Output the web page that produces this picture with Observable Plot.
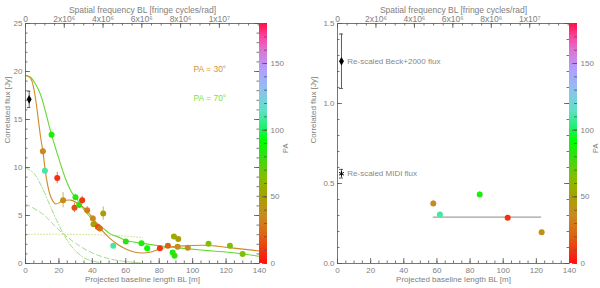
<!DOCTYPE html>
<html><head><meta charset="utf-8">
<script src="https://cdn.jsdelivr.net/npm/d3@7"></script>
<script src="https://cdn.jsdelivr.net/npm/@observablehq/plot@0.6"></script>
<style>
body{margin:0;background:#fff;}
#wrap{position:relative;width:600px;height:288px;overflow:hidden;background:#fff;}
#wrap svg{position:absolute;top:0;}
</style></head><body><div id="wrap"></div>
<script>
// ---------- data ----------
const lambda = 11.6e-6; // m, for spatial frequency axis
const topFreqTicks = [0, 2e6, 4e6, 6e6, 8e6, 1e7];
const topFreqLabels = ["0", "2x10\u2076", "4x10\u2076", "6x10\u2076", "8x10\u2076", "1x10\u2077"];
const blTicks = [0, 20, 40, 60, 80, 100, 120, 140];
const leftFluxTicks = [0, 5, 10, 15, 20, 25];
const rightFluxTicks = [0, 0.5, 1.0, 1.5];
const rightFluxLabels = ["0.0", "0.5", "1.0", "1.5"];
const paTicks = [0, 50, 100, 150];

// PA colour table
const paStops  = [0, 20, 35, 50, 65, 80, 92, 102, 115, 130, 145, 160, 170, 180];
const paColors = ["#ff1010", "#e06010", "#c88a20", "#a8a000", "#80c000", "#30e010", "#00ff00", "#20f070", "#60e0c8", "#90c0f0", "#b0a0ff", "#e070d0", "#ff40a0", "#ff1040"];

// left panel: correlated fluxes
const leftBL   = [10.4, 11.6, 15.6, 19.0, 22.5, 29.3, 29.9, 32.1, 33.9, 36.9, 40.3, 40.7, 43.3, 44.5, 46.5, 52.5, 60.0, 69.4, 72.8, 80.4, 85.2, 88.8, 91.4, 88.0, 89.2, 91.0, 97.1, 109.5, 122.3, 129.9];
const leftFlux = [11.7, 9.65, 13.4, 8.9, 6.6, 5.8, 6.9, 6.1, 6.6, 5.55, 4.7, 4.1, 3.8, 3.65, 5.2, 1.85, 2.3, 2.1, 1.6, 1.6, 1.85, 2.8, 2.55, 1.15, 0.8, 1.75, 1.65, 2.05, 1.85, 1.0];
const leftErr  = [0.3, 0.3, 0.3, 0.6, 0.8, 0.5, 0.3, 0.3, 0.4, 0.4, 0.3, 0.3, 0.3, 0.3, 0.7, 0.2, 0.2, 0.2, 0.2, 0.2, 0.2, 0.2, 0.2, 0.2, 0.2, 0.2, 0.2, 0.2, 0.2, 0.2];
const leftPA   = [35, 110, 85, 8, 38, 15, 85, 80, 10, 30, 35, 50, 15, 25, 50, 110, 80, 85, 90, 8, 20, 55, 50, 85, 80, 35, 35, 65, 65, 65];
const leftBeck = {bl: 2.2, flux: 17.1, err: 0.85};

// left panel: model curves
const model30BL   = [0, 3, 5, 7, 9, 10.4, 12.4, 15, 18, 22, 27, 31, 35, 40, 45, 50, 55, 60, 65, 70, 75, 80, 85, 90, 97, 105, 110, 115, 122, 130, 140];
const model30Flux = [19.6, 19.3, 18.2, 15.9, 13.2, 11.7, 9.0, 7.0, 6.2, 6.5, 6.6, 6.3, 5.8, 4.8, 3.6, 2.7, 2.0, 1.5, 1.2, 1.1, 1.2, 1.5, 1.7, 1.8, 1.85, 1.9, 1.88, 1.8, 1.65, 1.5, 1.3];
const model70BL   = [0, 3, 6, 9, 12, 15.6, 20, 24, 28, 30, 35, 40, 45, 51, 55, 60, 70, 80, 93, 105, 123, 140];
const model70Flux = [19.6, 19.4, 18.7, 17.6, 15.8, 13.4, 10.9, 8.8, 7.3, 6.9, 5.6, 4.6, 3.9, 3.06, 2.8, 2.4, 2.1, 1.85, 1.6, 1.4, 1.15, 0.75];
const compABL   = [0, 5, 10, 15, 20, 25, 30, 35, 40, 45];
const compAFlux = [10, 9.4, 7.9, 5.9, 4.0, 2.4, 1.3, 0.6, 0.25, 0.1];
const compBBL   = [0, 10, 20, 30, 40, 50, 60, 70];
const compBFlux = [6.2, 5.2, 3.5, 2.1, 1.1, 0.5, 0.2, 0.05];
const compCBL   = [0, 20, 40, 55, 70];
const compCFlux = [3.05, 3.05, 3.0, 2.9, 2.7];
const modelLabels = [{text: "PA = 30\u00b0", bl: 100.5, flux: 20.2, color: "#d4922e"}, {text: "PA = 70\u00b0", bl: 100.5, flux: 17.2, color: "#7ee040"}];

// right panel
const rightBL   = [57.8, 61.8, 85.8, 102.7, 123.2];
const rightFlux = [0.375, 0.307, 0.432, 0.286, 0.196];
const rightErr  = [0.02, 0.012, 0.015, 0.015, 0.012];
const rightPA   = [35, 110, 85, 8, 40];
const rightMean = {bl1: 57.8, bl2: 123.2, flux: 0.29};
const rightBeck = {bl: 2.4, flux: 1.264, err: 0.17, label: "Re-scaled Beck+2000 flux"};
const rightMidi = {bl: 2.4, flux: 0.561, err: 0.027, label: "Re-scaled MIDI flux"};

// ---------- helpers ----------
const FONT = "Liberation Sans, Arial, sans-serif";
const TXT = "#808080";
const AX = "#555";
const colorOpts = {type: "linear", domain: paStops, range: paColors, interpolate: "rgb"};
const zip = (xs, ys) => xs.map((x, i) => ({x, y: ys[i]}));
const pts = (bl, f, e, pa) => bl.map((x, i) => ({x, y: f[i], e: e[i], pa: pa[i]}));
const range = (a, b, s) => d3.range(a, b + s / 2, s);

function frameTicks({innerW, innerH, xMajor, xMinor, yMajor, yMinor, topMajor, topMinor}) {
  const M = 5, m = 2.5, st = {stroke: AX, strokeWidth: 0.8};
  return [
    Plot.ruleX(xMajor, {...st, insetTop: innerH - M}),
    Plot.ruleX(xMinor, {...st, insetTop: innerH - m}),
    Plot.ruleX(topMajor, {...st, insetBottom: innerH - M}),
    Plot.ruleX(topMinor, {...st, insetBottom: innerH - m}),
    Plot.ruleY(yMajor, {...st, insetRight: innerW - M}),
    Plot.ruleY(yMinor, {...st, insetRight: innerW - m}),
    Plot.ruleY(yMajor, {...st, insetLeft: innerW - M}),
    Plot.ruleY(yMinor, {...st, insetLeft: innerW - m}),
    Plot.frame({stroke: AX, strokeWidth: 0.8})
  ];
}
function topAxisText() {
  return [
    Plot.text(topFreqTicks.map((f, i) => ({x: f * lambda, t: topFreqLabels[i]})), {x: "x", text: "t", frameAnchor: "top", dy: -8, fill: TXT, fontSize: 8.5}),
    Plot.text(["Spatial frequency BL [fringe cycles/rad]"], {frameAnchor: "top", dy: -17, fill: TXT, fontSize: 8.5})
  ];
}
function bottomAxisText() {
  return [
    Plot.text(blTicks, {x: d => d, frameAnchor: "bottom", dy: 9, fill: TXT, fontSize: 8}),
    Plot.text(["Projected baseline length BL [m]"], {frameAnchor: "bottom", dy: 18.5, fill: TXT, fontSize: 8})
  ];
}
function colorbar(left) {
  const steps = d3.range(0, 180, 1);
  const svg = Plot.plot({
    width: 41, height: 288, marginLeft: 0, marginRight: 33, marginTop: 23, marginBottom: 25,
    style: {fontFamily: FONT, fontSize: "8px", background: "transparent"},
    x: {domain: [0, 1], axis: null}, y: {domain: [0, 180], axis: null}, color: colorOpts,
    marks: [
      Plot.rect(steps, {x1: 0, x2: 1, y1: d => d, y2: d => d + 1.3, fill: d => d + 0.5, shapeRendering: "crispEdges"}),
      Plot.ruleY(range(0, 180, 10), {stroke: AX, strokeWidth: 0.8, insetLeft: 5}),
      Plot.ruleY(paTicks, {stroke: AX, strokeWidth: 0.8, insetLeft: 3}),
      Plot.text(paTicks, {y: d => d, frameAnchor: "right", dx: 3, textAnchor: "start", fill: TXT, fontSize: 8}),
      Plot.text(["PA"], {frameAnchor: "right", dx: 18, rotate: -90, fill: TXT, fontSize: 7.5})
    ]
  });
  svg.style.left = left + "px";
  return svg;
}

const wrap = document.getElementById("wrap");

// ---------- left panel ----------
{
  const W = 300, H = 288, mL = 25, mR = 41, mT = 23, mB = 25;
  const innerW = W - mL - mR, innerH = H - mT - mB;
  const data = pts(leftBL, leftFlux, leftErr, leftPA);
  const compStyle = {x: "x", y: "y", stroke: "#9bd87a", strokeWidth: 0.9, curve: "catmull-rom"};
  const svg = Plot.plot({
    width: W, height: H, marginLeft: mL, marginRight: mR, marginTop: mT, marginBottom: mB,
    style: {fontFamily: FONT, fontSize: "8px", background: "transparent"},
    x: {domain: [0, 140], axis: null}, y: {domain: [0, 25], axis: null}, color: colorOpts,
    marks: [
      Plot.line(zip(compABL, compAFlux), {...compStyle, strokeDasharray: "5,2,1,2"}),
      Plot.line(zip(compBBL, compBFlux), {...compStyle, strokeDasharray: "5,3"}),
      Plot.line(zip(compCBL, compCFlux), {...compStyle, strokeDasharray: "1,2", stroke: "#c8e080"}),
      Plot.line(zip(model70BL, model70Flux), {x: "x", y: "y", stroke: "#66d830", strokeWidth: 1.1, curve: "catmull-rom"}),
      Plot.line(zip(model30BL, model30Flux), {x: "x", y: "y", stroke: "#d08a28", strokeWidth: 1.1, curve: "catmull-rom"}),
      Plot.ruleX(data, {x: "x", y1: d => d.y - d.e, y2: d => d.y + d.e, stroke: "pa", strokeOpacity: 0.7}),
      Plot.dot(data, {x: "x", y: "y", fill: "pa", r: 3}),
      Plot.ruleX([leftBeck], {x: "bl", y1: d => d.flux - d.err, y2: d => d.flux + d.err, stroke: "#333", strokeWidth: 0.8}),
      Plot.ruleY([leftBeck.flux - leftBeck.err, leftBeck.flux + leftBeck.err], {y: d => d, x1: leftBeck.bl - 1, x2: leftBeck.bl + 1, stroke: "#333", strokeWidth: 0.8}),
      Plot.dot([leftBeck], {x: "bl", y: "flux", symbol: "diamond", r: 2.6, fill: "#000"}),
      Plot.text(modelLabels, {x: "bl", y: "flux", text: "text", fill: "color", textAnchor: "start", fontSize: 8.5}),
      ...frameTicks({innerW, innerH, xMajor: blTicks, xMinor: range(0, 140, 5), yMajor: leftFluxTicks, yMinor: range(0, 25, 1),
        topMajor: topFreqTicks.map(f => f * lambda), topMinor: range(0, 1.2e7, 5e5).map(f => f * lambda).filter(x => x <= 140)}),
      Plot.text(leftFluxTicks, {y: d => d, frameAnchor: "left", dx: -3, textAnchor: "end", fill: TXT, fontSize: 8}),
      Plot.text(["Correlated flux [Jy]"], {frameAnchor: "left", dx: -18, rotate: -90, fill: TXT, fontSize: 8}),
      ...topAxisText(), ...bottomAxisText()
    ]
  });
  svg.style.left = "0px";
  wrap.appendChild(svg);
  wrap.appendChild(colorbar(259));
}

// ---------- right panel ----------
{
  const W = 300, H = 288, mL = 37, mR = 31, mT = 23, mB = 25;
  const innerW = W - mL - mR, innerH = H - mT - mB;
  const data = pts(rightBL, rightFlux, rightErr, rightPA);
  const svg = Plot.plot({
    width: W, height: H, marginLeft: mL, marginRight: mR, marginTop: mT, marginBottom: mB,
    style: {fontFamily: FONT, fontSize: "8px", background: "transparent"},
    x: {domain: [0, 140], axis: null}, y: {domain: [0, 1.5], axis: null}, color: colorOpts,
    marks: [
      Plot.ruleY([rightMean], {y: "flux", x1: "bl1", x2: "bl2", stroke: "#888", strokeWidth: 1}),
      Plot.ruleX(data, {x: "x", y1: d => d.y - d.e, y2: d => d.y + d.e, stroke: "pa", strokeOpacity: 0.7}),
      Plot.dot(data, {x: "x", y: "y", fill: "pa", r: 3}),
      Plot.ruleX([rightBeck, rightMidi], {x: "bl", y1: d => d.flux - d.err, y2: d => d.flux + d.err, stroke: "#333", strokeWidth: 0.8}),
      Plot.ruleY([rightBeck, rightMidi].flatMap(d => [{...d, yy: d.flux - d.err}, {...d, yy: d.flux + d.err}]), {y: "yy", x1: d => d.bl - 1.2, x2: d => d.bl + 1.2, stroke: "#333", strokeWidth: 0.8}),
      Plot.dot([rightBeck], {x: "bl", y: "flux", symbol: "diamond", r: 2.6, fill: "#000"}),
      Plot.dot([rightMidi], {x: "bl", y: "flux", symbol: "asterisk", r: 2.6, stroke: "#000", strokeWidth: 1}),
      Plot.text([rightBeck, rightMidi], {x: d => d.bl + 3.5, y: "flux", text: "label", textAnchor: "start", fill: "#888", fontSize: 8}),
      ...frameTicks({innerW, innerH, xMajor: blTicks, xMinor: range(0, 140, 5), yMajor: rightFluxTicks, yMinor: range(0, 1.5, 0.1),
        topMajor: topFreqTicks.map(f => f * lambda), topMinor: range(0, 1.2e7, 5e5).map(f => f * lambda).filter(x => x <= 140)}),
      Plot.text(rightFluxTicks.map((v, i) => ({v, t: rightFluxLabels[i]})), {y: "v", text: "t", frameAnchor: "left", dx: -3, textAnchor: "end", fill: TXT, fontSize: 8}),
      Plot.text(["Correlated flux [Jy]"], {frameAnchor: "left", dx: -24, rotate: -90, fill: TXT, fontSize: 8}),
      ...topAxisText(), ...bottomAxisText()
    ]
  });
  svg.style.left = "300px";
  wrap.appendChild(svg);
  wrap.appendChild(colorbar(569));
}
</script></body></html>
